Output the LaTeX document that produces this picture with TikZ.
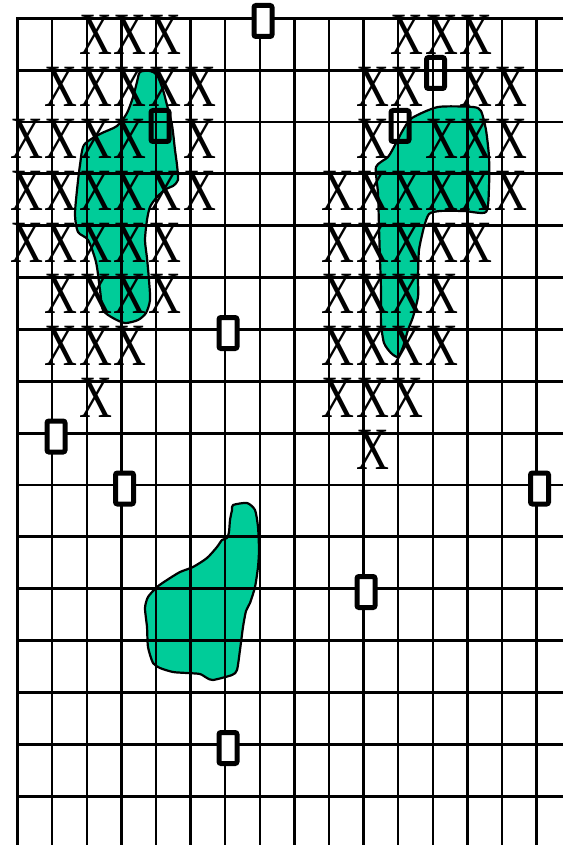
\documentclass[tikz,border=0pt]{standalone}
\usepackage{fontspec}
\setmainfont{Liberation Serif}
\usepackage{xcolor}
\usepackage{tikz}
\usetikzlibrary{calc}
\definecolor{blobc}{HTML}{00CC99}
\definecolor{inkc}{HTML}{000000}
\tikzset{
  hln/.style={line width=2.9pt,inkc,line cap=rect},
  vln/.style={line width=2.4pt,inkc,line cap=rect},
  blob/.style={fill=blobc,draw=inkc,line width=2.2pt,line join=round},
  xmk/.style={inner sep=0pt,font=\fontsize{60}{60}\selectfont},
  pit/.style={draw=inkc,line width=5pt,rounded corners=2pt,minimum width=18pt,minimum height=31pt,inner sep=0pt},
  pitw/.style={pit,fill=white}
}
\newcommand{\bigx}{\scalebox{0.76}[1]{X}}

\begin{document}
\begin{tikzpicture}[x=1pt,y=-1pt]
\useasboundingbox (0,0) rectangle (562,845);
\draw[blob] plot[smooth cycle,tension=0.45] coordinates {(140,72) (150,71) (157,75) (163,90) (167,105) (172,125) (175,150) (177,165) (178,180) (173,186) (166,189) (157,197) (150,207) (147,220) (145,240) (147,258) (149,280) (150,300) (146,313) (138,320) (125,323) (113,318) (103,310) (100,290) (96,262) (88,240) (78,232) (75,215) (77,190) (80,165) (84,145) (100,134) (117,126) (127,113) (133,97) (137,82)};
\draw[blob] plot[smooth cycle,tension=0.4] coordinates {(403,130) (412,118) (438,107) (473,107) (481,111) (486,130) (489,157) (489,187) (486,212) (464,211) (440,211) (429,214) (424,227) (419,250) (418,277) (418,297) (413,317) (408,330) (403,347) (398,357) (391,353) (384,343) (381,323) (381,290) (380,260) (379,227) (378,193) (376,167) (388,157) (395,145)};
\draw[blob] plot[smooth cycle,tension=0.4] coordinates {(233,505) (247,503) (255,510) (258,527) (259,550) (258,567) (255,587) (250,603) (246,611) (243,627) (240,650) (237,670) (232,675) (213,680) (207,678) (200,674) (187,673) (173,672) (160,668) (153,663) (148,647) (147,627) (145,608) (148,597) (157,587) (167,580) (180,572) (193,567) (207,558) (217,547) (222,540) (227,538) (229,532) (230,520) (232,510)};
\foreach \k in {0,...,15}
  \draw[vln] (17.5+34.6*\k,18.3) -- (17.5+34.6*\k,845);
\foreach \k in {0,...,15}
  \draw[hln] (17.5,18.3+51.85*\k) -- (562,18.3+51.85*\k);
\foreach \r/\cs in {0/{2,3,4,11,12,13},1/{1,2,3,4,5,10,11,13,14},2/{0,1,2,3,5,10,12,13,14},3/{0,1,2,3,4,5,9,10,11,12,13,14},4/{0,1,2,3,4,9,10,11,12,13},5/{1,2,3,4,9,10,11,12},6/{1,2,3,9,10,11,12},7/{2,9,10,11},8/{10}}
  \foreach \c in \cs
    \node[xmk] (x-\r-\c) at (26.5+34.6*\c,35+51.85*\r) {\bigx};
\node[pitw] (p1) at (263,21) {};
\node[pit] (p2) at (435.5,73) {};
\node[pit] (p3) at (400,126) {};
\node[pit] (p4) at (160,126) {};
\node[pitw] (p5) at (228,333) {};
\node[pitw] (p6) at (56,436.5) {};
\node[pitw] (p7) at (124.5,488.5) {};
\node[pitw] (p8) at (539.5,488.5) {};
\node[pitw] (p9) at (366,592) {};
\node[pitw] (p10) at (228,748) {};
\end{tikzpicture}
\end{document}
